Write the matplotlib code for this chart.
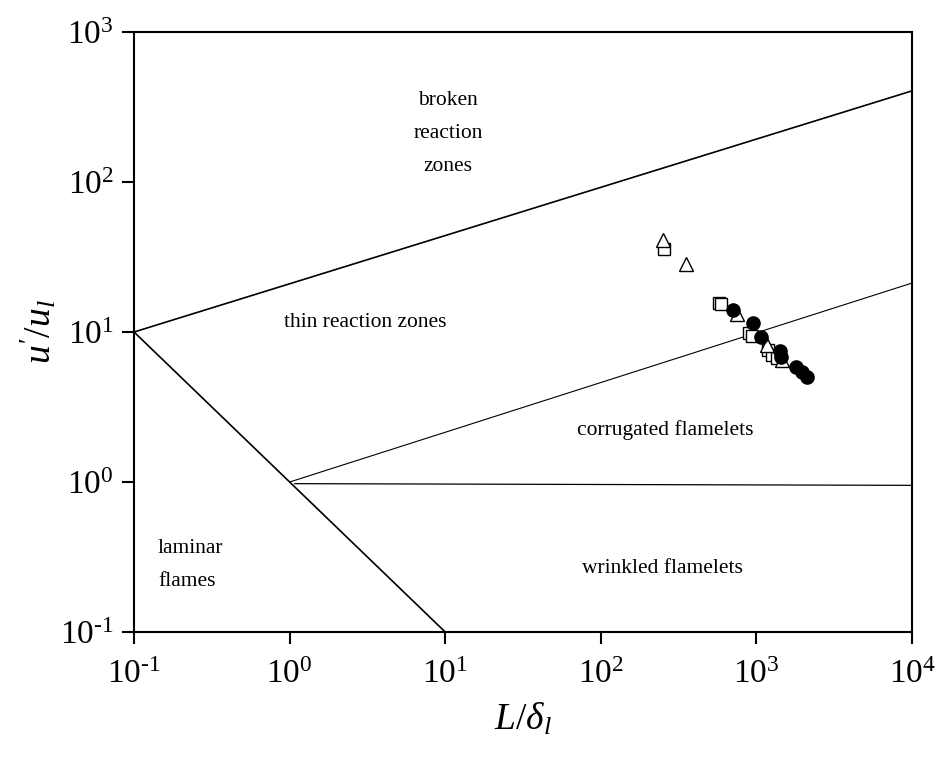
import matplotlib
matplotlib.use("Agg")
import matplotlib.pyplot as plt
from matplotlib.ticker import FuncFormatter
import numpy as np

plt.rcParams['font.family'] = ['Liberation Serif', 'DejaVu Serif']
plt.rcParams['mathtext.fontset'] = 'custom'
plt.rcParams['mathtext.rm'] = 'Liberation Serif'
plt.rcParams['mathtext.it'] = 'Liberation Serif:italic'
plt.rcParams['axes.unicode_minus'] = False

# regime boundary lines (L/delta_l, u'/u_l)
upper_x = [0.1, 1e4]
upper_y = [10, 405]
ka1_x = [1, 1e4]
ka1_y = [1, 21.2]
horiz_x = [1.08, 1e4]
horiz_y = [0.975, 0.95]
re1_x = [0.1, 10]
re1_y = [10, 0.1]

# measurements
tri_x = [252, 353, 747, 1164, 1452]
tri_y = [41, 28.2, 13.2, 8.2, 6.5]
sq_x = [255, 578, 592, 900, 933, 1193, 1253, 1349]
sq_y = [35.7, 15.7, 15.4, 9.9, 9.4, 7.6, 7.0, 6.7]
circ_x = [711, 955, 1076, 1419, 1430, 1795, 1954, 2103]
circ_y = [14.0, 11.4, 9.3, 7.5, 6.8, 5.8, 5.4, 4.99]

x_ticks = [1e-1, 1e0, 1e1, 1e2, 1e3, 1e4]
y_ticks = [1e-1, 1e0, 1e1, 1e2, 1e3]


def pow10(v, pos):
    e = int(round(np.log10(v)))
    return r"$10^{\text{%d}}$" % e


fig = plt.figure(figsize=(9.38, 7.62), dpi=100)
ax = fig.add_axes([0.1429, 0.1706, 0.9723 - 0.1429, 0.958 - 0.1706])

ax.plot(upper_x, upper_y, color='black', lw=1.2)
ax.plot(re1_x, re1_y, color='black', lw=1.2)
ax.plot(ka1_x, ka1_y, color='black', lw=0.8)
ax.plot(horiz_x, horiz_y, color='black', lw=0.9)

ax.plot(sq_x, sq_y, 's', ms=8.5, mfc='white', mec='black', mew=1.0, ls='none')
ax.plot(tri_x, tri_y, '^', ms=10, mfc='white', mec='black', mew=1.0, ls='none')
ax.plot(circ_x, circ_y, 'o', ms=9.5, mfc='black', mec='black', ls='none')

ax.set_xscale('log')
ax.set_yscale('log')
ax.set_xlim(0.1, 1e4)
ax.set_ylim(0.1, 1e3)
ax.minorticks_off()
ax.set_xticks(x_ticks)
ax.set_yticks(y_ticks)
ax.xaxis.set_major_formatter(FuncFormatter(pow10))
ax.yaxis.set_major_formatter(FuncFormatter(pow10))

for s in ax.spines.values():
    s.set_linewidth(1.5)
ax.tick_params(which='major', direction='out', length=8.5, width=1.5,
               labelsize=24, top=False, right=False)
ax.tick_params(axis='x', pad=11)
ax.tick_params(axis='y', pad=6)

ax.set_xlabel(r"$L/\delta_l$", fontsize=27, labelpad=8)
ax.set_ylabel(r"$u'/u_l$", fontsize=27, labelpad=1)

fs = 15.5
ax.text(10.4, 212, "broken\nreaction\nzones", fontsize=fs, ha='center', va='center', linespacing=2.0)
ax.text(3.06, 11.5, "thin reaction zones", fontsize=fs, ha='center', va='center')
ax.text(259, 2.22, "corrugated flamelets", fontsize=fs, ha='center', va='center')
ax.text(250, 0.267, "wrinkled flamelets", fontsize=fs, ha='center', va='center')
ax.text(0.1426, 0.28, "laminar\nflames", fontsize=fs, ha='left', va='center', linespacing=2.0)

fig.savefig("out.png", dpi=100)
